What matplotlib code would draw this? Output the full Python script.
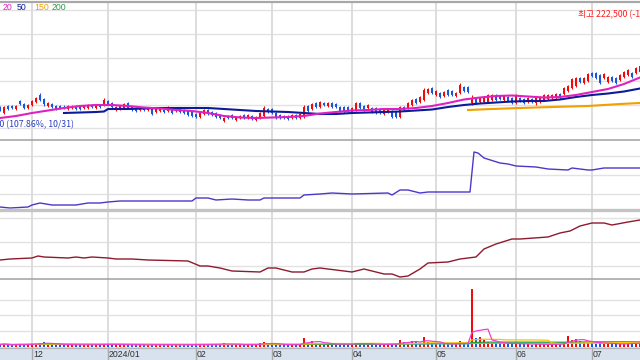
import numpy as np
import pandas as pd
import matplotlib
matplotlib.use("Agg")
import matplotlib.pyplot as plt
from matplotlib.lines import Line2D

# ---------------- data ----------------
holidays = ["2023-12-25", "2023-12-29", "2024-01-01", "2024-02-09", "2024-02-12",
            "2024-03-01", "2024-04-10", "2024-05-01", "2024-05-06", "2024-05-15",
            "2024-06-06"]
trade_days = pd.bdate_range("2023-11-21", "2024-07-17")
trade_days = trade_days[~trade_days.isin(pd.to_datetime(holidays))]

# prices in thousand won
opens = [138.5, 126.5, 140.5, 140.5, 134.5, 150.5, 144.5, 136.5, 142.5, 148.5,
         162.5, 154.5, 140.5, 144.5, 140.5, 140.5, 139.5, 134.5, 136.5, 140.5,
         138.5, 136.5, 136.5, 142.5, 136.5, 142.5, 142.5, 150.5, 146.5, 132.5,
         134.5, 136.5, 146.5, 138.5, 136.5, 132.5, 136.5, 132.5, 136.5, 128.5,
         130.5, 132.5, 130.5, 132.5, 130.5, 134.5, 132.5, 130.5, 128.5, 124.5,
         118.5, 124.5, 132.5, 128.5, 126.5, 122.5, 110.5, 120.5, 122.5, 112.5,
         116.5, 122.5, 116.5, 120.5, 112.5, 116.5, 120.5, 134.5, 134.5, 126.5,
         122.5, 120.5, 120.5, 116.5, 122.5, 116.5, 118.5, 140.5, 134.5, 146.5,
         138.5, 146.5, 140.5, 146.5, 144.5, 138.5, 138.5, 138.5, 128.5, 132.5,
         146.5, 140.5, 136.5, 136.5, 136.5, 134.5, 124.5, 128.5, 130.5, 128.5,
         118.5, 138.5, 136.5, 142.5, 154.5, 148.5, 152.5, 166.5, 176.5, 162.5,
         166.5, 160.5, 172.5, 170.5, 160.5, 166.5, 178.5, 178.5, 146.5, 156.5,
         148.5, 148.5, 148.5, 152.5, 162.5, 160.5, 152.5, 158.5, 156.5, 146.5,
         156.5, 154.5, 148.5, 154.5, 146.5, 148.5, 152.5, 154.5, 156.5, 156.5,
         164.5, 164.5, 170.5, 176.5, 180.5, 196.5, 186.5, 190.5, 206.5, 206.5,
         202.5, 196.5, 188.5, 198.5, 196.5, 192.5, 198.5, 202.5, 206.5, 206.5,
         208.5]
closes = [132.5, 138.5, 134.5, 136.5, 140.5, 144.5, 136.5, 142.5, 150.5, 156.5,
          152.5, 144.5, 146.5, 138.5, 134.5, 136.5, 135.5, 140.5, 140.5, 134.5,
          134.5, 140.5, 142.5, 138.5, 142.5, 138.5, 152.5, 144.5, 138.5, 138.5,
          140.5, 144.5, 136.5, 132.5, 130.5, 136.5, 132.5, 136.5, 124.5, 134.5,
          136.5, 128.5, 138.5, 126.5, 136.5, 128.5, 126.5, 122.5, 120.5, 118.5,
          126.5, 132.5, 124.5, 122.5, 118.5, 116.5, 116.5, 116.5, 116.5, 118.5,
          120.5, 116.5, 122.5, 114.5, 118.5, 126.5, 136.5, 128.5, 126.5, 116.5,
          116.5, 116.5, 114.5, 122.5, 116.5, 124.5, 138.5, 130.5, 144.5, 138.5,
          148.5, 142.5, 146.5, 138.5, 138.5, 130.5, 128.5, 130.5, 136.5, 146.5,
          136.5, 132.5, 142.5, 128.5, 126.5, 126.5, 132.5, 134.5, 118.5, 118.5,
          138.5, 132.5, 146.5, 152.5, 146.5, 158.5, 172.5, 174.5, 166.5, 170.5,
          158.5, 168.5, 162.5, 162.5, 166.5, 182.5, 170.5, 168.5, 156.5, 146.5,
          156.5, 158.5, 162.5, 162.5, 152.5, 154.5, 160.5, 150.5, 146.5, 162.5,
          150.5, 146.5, 156.5, 148.5, 158.5, 158.5, 162.5, 162.5, 162.5, 164.5,
          156.5, 176.5, 180.5, 194.5, 196.5, 188.5, 196.5, 204.5, 200.5, 196.5,
          186.5, 204.5, 198.5, 190.5, 186.5, 202.5, 208.5, 212.5, 198.5, 216.5,
          220.5]
highs = [140.5, 140.5, 142.5, 142.5, 142.5, 152.5, 146.5, 144.5, 152.5, 158.5,
         166.5, 156.5, 148.5, 146.5, 142.5, 142.5, 141.5, 142.5, 142.5, 142.5,
         140.5, 142.5, 144.5, 144.5, 144.5, 144.5, 156.5, 152.5, 148.5, 140.5,
         142.5, 146.5, 148.5, 140.5, 138.5, 138.5, 138.5, 138.5, 138.5, 136.5,
         138.5, 134.5, 140.5, 134.5, 138.5, 136.5, 134.5, 132.5, 130.5, 126.5,
         128.5, 134.5, 134.5, 130.5, 128.5, 124.5, 118.5, 122.5, 124.5, 120.5,
         122.5, 124.5, 124.5, 122.5, 120.5, 128.5, 140.5, 136.5, 136.5, 128.5,
         124.5, 122.5, 122.5, 124.5, 124.5, 126.5, 142.5, 142.5, 146.5, 148.5,
         150.5, 148.5, 148.5, 148.5, 146.5, 140.5, 140.5, 140.5, 138.5, 148.5,
         148.5, 142.5, 144.5, 138.5, 138.5, 136.5, 134.5, 136.5, 132.5, 130.5,
         140.5, 140.5, 148.5, 154.5, 156.5, 160.5, 176.5, 176.5, 178.5, 172.5,
         168.5, 170.5, 174.5, 172.5, 168.5, 186.5, 180.5, 180.5, 162.5, 158.5,
         158.5, 160.5, 164.5, 164.5, 164.5, 162.5, 162.5, 160.5, 158.5, 164.5,
         158.5, 156.5, 158.5, 156.5, 160.5, 160.5, 164.5, 164.5, 164.5, 166.5,
         166.5, 178.5, 182.5, 196.5, 198.5, 198.5, 198.5, 206.5, 208.5, 208.5,
         204.5, 206.5, 200.5, 200.5, 198.5, 204.5, 210.5, 214.5, 208.5, 218.5,
         222.5]
lows = [130.5, 124.5, 132.5, 134.5, 132.5, 142.5, 134.5, 134.5, 140.5, 146.5,
        150.5, 140.5, 138.5, 136.5, 132.5, 134.5, 133.5, 132.5, 134.5, 132.5,
        132.5, 134.5, 134.5, 136.5, 134.5, 136.5, 140.5, 142.5, 136.5, 130.5,
        132.5, 134.5, 134.5, 130.5, 128.5, 130.5, 130.5, 130.5, 122.5, 126.5,
        128.5, 126.5, 128.5, 124.5, 128.5, 126.5, 124.5, 120.5, 118.5, 116.5,
        116.5, 122.5, 122.5, 120.5, 116.5, 114.5, 108.5, 114.5, 114.5, 110.5,
        114.5, 114.5, 114.5, 112.5, 110.5, 114.5, 118.5, 126.5, 124.5, 114.5,
        114.5, 114.5, 112.5, 114.5, 114.5, 114.5, 116.5, 128.5, 132.5, 136.5,
        136.5, 140.5, 138.5, 136.5, 136.5, 128.5, 126.5, 128.5, 126.5, 130.5,
        134.5, 130.5, 134.5, 126.5, 124.5, 124.5, 122.5, 126.5, 116.5, 116.5,
        116.5, 130.5, 134.5, 140.5, 144.5, 146.5, 150.5, 164.5, 164.5, 160.5,
        156.5, 158.5, 160.5, 160.5, 158.5, 164.5, 168.5, 166.5, 142.5, 144.5,
        146.5, 146.5, 146.5, 150.5, 150.5, 152.5, 150.5, 148.5, 144.5, 144.5,
        148.5, 144.5, 146.5, 146.5, 142.5, 146.5, 150.5, 152.5, 154.5, 154.5,
        154.5, 162.5, 168.5, 174.5, 178.5, 186.5, 184.5, 188.5, 198.5, 194.5,
        184.5, 194.5, 186.5, 188.5, 184.5, 190.5, 196.5, 200.5, 196.5, 204.5,
        206.5]
# volume in thousand shares
volumes = [250, 300, 220, 200, 260, 280, 240, 230, 320, 350,
           380, 500, 300, 260, 240, 220, 210, 250, 230, 220,
           210, 240, 230, 220, 240, 220, 320, 280, 250, 230,
           240, 260, 270, 230, 220, 210, 200, 210, 300, 220,
           230, 210, 240, 220, 210, 230, 240, 250, 240, 230,
           260, 280, 270, 250, 260, 300, 420, 240, 230, 250,
           220, 230, 220, 240, 250, 400, 500, 300, 280, 250,
           240, 230, 220, 240, 230, 280, 900, 450, 600, 400,
           380, 300, 320, 280, 260, 300, 320, 280, 300, 450,
           350, 300, 280, 260, 280, 260, 250, 240, 300, 320,
           700, 500, 400, 600, 550, 450, 1000, 500, 400, 350,
           320, 300, 280, 260, 280, 600, 350, 320, 5800, 900,
           1000, 700, 500, 450, 400, 380, 350, 320, 300, 380,
           300, 280, 260, 250, 280, 260, 270, 250, 260, 280,
           300, 450, 1100, 700, 800, 600, 500, 450, 400, 350,
           450, 350, 300, 300, 280, 300, 320, 350, 500, 350,
           400]

# moving averages (day index, thousand won)
ma20_day = [0, 4, 8, 12, 16, 20, 24, 28, 32, 36, 40, 44, 48, 52, 56, 60, 64, 68, 72, 76,
            80, 84, 88, 92, 96, 100, 104, 108, 112, 116, 120, 124, 128, 132, 136, 140,
            144, 148, 152, 156, 160]
ma20_val = [116.5, 120.5, 126.5, 131.5, 136.5, 140.5, 142.5, 142.5, 140.5, 137.5,
            135.5, 132.5, 130.5, 126.5, 120.5, 117.5, 116.5, 117.5, 118.5, 120.5,
            125.5, 128.5, 131.5, 132.5, 134.5, 134.5, 136.5, 140.5, 146.5, 153.5,
            157.5, 160.5, 161.5, 159.5, 157.5, 158.5, 162.5, 168.5, 174.5, 184.5, 197.5]
ma50_day = [16, 20, 24, 26, 27, 32, 36, 40, 44, 48, 52, 56, 60, 64, 68, 72, 76, 80, 84,
            88, 92, 96, 100, 104, 108, 112, 116, 120, 124, 128, 132, 136, 140, 144, 148,
            152, 156, 160]
ma50_val = [126.5, 127.5, 128.5, 129.5, 134.5, 134.5, 135.5, 136.5, 136.5, 136.5,
            136.5, 134.5, 132.5, 130.5, 129.5, 128.5, 126.5, 124.5, 124.5, 126.5,
            127.5, 128.5, 129.5, 131.5, 133.5, 138.5, 142.5, 145.5, 147.5, 149.5,
            150.5, 150.5, 153.5, 158.5, 162.5, 165.5, 169.5, 175.5]
ma150_day = [117, 123, 130, 138, 147, 155, 160]
ma150_val = [132.5, 134.5, 136.5, 138.5, 140.5, 144.5, 146.5]

# indicator panels (day index, value)
ind1_day = [0, 2.5, 7, 8, 10, 13, 19, 22, 25, 27, 30, 48, 49, 52, 54, 58, 62, 65, 66, 70,
            75, 76, 80, 83, 88, 97, 98, 100, 102, 105, 107, 112, 117.5, 118.5, 119.5,
            121, 125, 127, 129, 134, 137, 142, 143, 147, 148, 151, 155, 160]
ind1_val = [20.3, 20.2, 20.3, 20.5, 20.7, 20.5, 20.5, 20.7, 20.7, 20.8, 20.9, 20.9,
            21.2, 21.2, 21.0, 21.1, 21.0, 21.0, 21.2, 21.2, 21.2, 21.5, 21.6, 21.7,
            21.6, 21.7, 21.5, 22.0, 22.0, 21.7, 21.8, 21.8, 21.8, 25.8, 25.7, 25.2,
            24.7, 24.6, 24.4, 24.3, 24.1, 24.0, 24.2, 24.0, 24.0, 24.2, 24.2, 24.2]
ind2_day = [0, 2.5, 8, 9.5, 11, 17, 19, 21, 23, 27, 29, 33, 37, 47, 50, 52, 55, 58, 65,
            67, 69, 73, 76, 78, 80, 84, 88, 91, 93, 96, 98, 100, 102, 105, 107, 112, 115,
            119, 121, 124, 128, 130, 137, 140, 142.5, 145, 147, 148, 151, 153, 157, 160]
ind2_val = [11.9, 12.0, 12.1, 12.3, 12.2, 12.1, 12.2, 12.1, 12.2, 12.1, 12.0, 12.0,
            11.9, 11.8, 11.3, 11.3, 11.1, 10.8, 10.7, 11.1, 11.1, 10.7, 10.7, 11.0,
            11.1, 10.9, 10.7, 11.0, 10.8, 10.5, 10.5, 10.2, 10.3, 11.0, 11.6, 11.7,
            12.0, 12.2, 13.0, 13.5, 14.0, 14.0, 14.2, 14.6, 14.8, 15.3, 15.5, 15.6,
            15.6, 15.4, 15.7, 15.9]

# ---------------- figure ----------------
W, H = 640, 360
fig = plt.figure(figsize=(6.4, 3.6), dpi=100)
fig.patch.set_facecolor("white")

def panel(y0, y1):
    a = fig.add_axes([0, 1 - y1 / H, 1, (y1 - y0) / H])
    a.set_xlim(0, len(trade_days) - 1)
    for s in a.spines.values():
        s.set_visible(False)
    a.set_xticks([])
    a.set_yticks([])
    a.patch.set_alpha(0)
    return a

ax1 = panel(2, 140)
ax2 = panel(140, 210)
ax3 = panel(210, 279)
ax4 = panel(279, 347)
axx = panel(347, 360)
axx.patch.set_alpha(1)
axx.set_facecolor("#d8e2ee")
axx.set_ylim(0, 1)

ax1.set_ylim(72.5, 348.5)
ax2.set_ylim(20.0, 27.0)
ax3.set_ylim(10.0, 16.9)
ax4.set_ylim(0, 6800)

# month starts
ser = pd.Series(np.arange(len(trade_days)), index=trade_days)
firsts = ser.groupby(trade_days.to_period("M")).first()
month_pos = list(firsts.values[1:])
month_per = list(firsts.index[1:])
month_lab = [f"{p.year}/01" if p.month == 1 else f"{p.month:02d}" for p in month_per]

grid_c = "#e2e2e2"
vgrid_c = "#dadada"
for a, levels in [(ax1, [96.5, 142.5, 190.5, 236.5, 284.5, 332.5]),
                  (ax2, [21.6, 23.5, 25.4]),
                  (ax3, [11.3, 13.7, 16.1]),
                  (ax4, [1600, 3200, 4700])]:
    for lv in levels:
        a.axhline(lv, color=grid_c, lw=1.0, zorder=0)
    for mp in month_pos:
        a.axvline(mp, color=vgrid_c, lw=1.3, zorder=0)

# candles
x = np.arange(len(trade_days))
o = np.array(opens); c = np.array(closes); hi = np.array(highs); lo = np.array(lows)
RED, BLUE = "#f00a0a", "#1a56dc"
cols = np.where(c >= o, RED, BLUE)
ax1.vlines(x, lo, hi, colors=cols, lw=0.8, zorder=3)
ax1.bar(x, np.maximum(np.abs(c - o), 0.8), bottom=np.minimum(o, c), width=0.62,
        color=cols, linewidth=0, zorder=3)
ax1.plot(ma150_day, ma150_val, color="#f0a000", lw=1.5, zorder=4)
ax1.plot(ma50_day, ma50_val, color="#0c1c98", lw=1.5, zorder=4)
ax1.plot(ma20_day, ma20_val, color="#e020c0", lw=1.5, zorder=5)

# indicator panels
ax2.plot(ind1_day, ind1_val, color="#4a38c8", lw=1.0, zorder=3)
ax3.plot(ind2_day, ind2_val, color="#8e1a2e", lw=1.0, zorder=3)

# volume
v = np.array(volumes, dtype=float)
ax4.bar(x, v, width=0.55, color=cols, linewidth=0, zorder=3)
vs = pd.Series(v)
for w, col in [(120, "#40c8e0"), (60, "#20a040"), (20, "#f5c400"), (5, "#f040d0")]:
    ax4.plot(x, vs.rolling(w, min_periods=1).mean(), color=col, lw=0.9, zorder=4)

# x strip
for mp, lab in zip(month_pos, month_lab):
    axx.axvline(mp, color="#a8a8a8", lw=1.0)
    axx.text(mp + 0.25, 0.45, lab, fontsize=6.3, family=["Liberation Sans", "DejaVu Sans"],
             color="#303030", ha="left", va="center")

# separators
def hsep(y, color, lw):
    fig.add_artist(Line2D([0, 1], [1 - y / H, 1 - y / H], color=color, lw=lw,
                          transform=fig.transFigure))
hsep(1.5, "#a8a8a8", 1.6)
hsep(140, "#a0a0a0", 1.1)
hsep(210, "#c4c4c4", 2.4)
hsep(279, "#a0a0a0", 1.1)
hsep(347.5, "#b4b4b4", 0.9)

# texts
def ftext(px, py, s, color, ha="left", fs=6.3, fam=None):
    fig.text(px / W, 1 - py / H, s, color=color, ha=ha, va="center", fontsize=fs,
             family=fam or ["Liberation Sans", "DejaVu Sans"])

ftext(3, 8, "20", "#e020c0")
ftext(17, 8, "50", "#0c1c98")
ftext(34, 8, "150", "#f0a000")
ftext(52, 8, "200", "#20a040")
kr = ["Noto Sans CJK KR", "DejaVu Sans"]
ftext(578, 15, "최고 222,500 (-1.80%, 7/17)", "#ff2020", fam=kr)
ftext(74, 125, "최저 106,100 (107.86%, 10/31)", "#2a3cc0", ha="right", fam=kr)

fig.savefig("out.png", dpi=100)
